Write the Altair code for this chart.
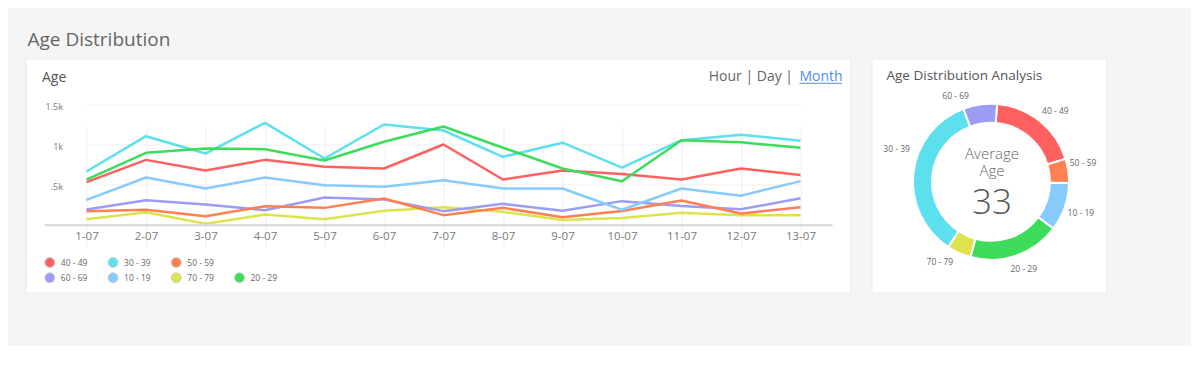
import math
import altair as alt
import pandas as pd

# ---------------- data ----------------
dates = ["1-07", "2-07", "3-07", "4-07", "5-07", "6-07", "7-07",
         "8-07", "9-07", "10-07", "11-07", "12-07", "13-07"]

series_names = ["40 - 49", "30 - 39", "50 - 59", "60 - 69", "10 - 19", "70 - 79", "20 - 29"]
series_colors = ["#FF6161", "#5CE0EE", "#FF8152", "#9C9CF5", "#86CBFB", "#DCE34D", "#3DDC5A"]

age_40_49 = [530, 808, 675, 808, 721, 700, 1000, 562, 675, 630, 562, 700, 620]
age_30_39 = [662, 1104, 887, 1271, 825, 1250, 1175, 846, 1023, 710, 1054, 1123, 1046]
age_50_59 = [167, 183, 104, 229, 208, 325, 117, 208, 92, 170, 300, 137, 215]
age_60_69 = [187, 304, 250, 179, 337, 312, 167, 258, 171, 292, 230, 190, 327]
age_10_19 = [308, 587, 450, 587, 491, 471, 554, 450, 450, 185, 450, 360, 542]
age_70_79 = [65, 154, 10, 125, 67, 171, 217, 158, 56, 80, 146, 117, 117]
age_20_29 = [560, 896, 950, 941, 800, 1035, 1225, 960, 700, 540, 1054, 1027, 958]

y_tick_values = [500, 1000, 1500]
y_tick_labels = [".5k", "1k", "1.5k"]

donut_groups = ["40 - 49", "50 - 59", "10 - 19", "20 - 29", "70 - 79", "30 - 39", "60 - 69"]
donut_share = [19, 5, 10, 19, 5, 35, 7]
average_age = "33"

# ---------------- tables ----------------
series_values = {
    "40 - 49": age_40_49, "30 - 39": age_30_39, "50 - 59": age_50_59,
    "60 - 69": age_60_69, "10 - 19": age_10_19, "70 - 79": age_70_79,
    "20 - 29": age_20_29,
}
draw_order = ["70 - 79", "60 - 69", "50 - 59", "10 - 19", "40 - 49", "30 - 39", "20 - 29"]
rows = []
for s in draw_order:
    for i, (d, v) in enumerate(zip(dates, series_values[s])):
        rows.append({"series": s, "date": d, "i": i, "value": v})
line_df = pd.DataFrame(rows)

legend_df = pd.DataFrame({
    "series": series_names,
    "col": [i if i < 3 else i - 3 for i in range(len(series_names))],
    "row": [0 if i < 3 else 1 for i in range(len(series_names))],
})

donut_df = pd.DataFrame({"series": donut_groups, "share": donut_share,
                         "k": list(range(len(donut_groups)))})

one = pd.DataFrame({"a": [0]})

FONT = "Open Sans"
color_scale = alt.Scale(domain=series_names, range=series_colors)

# ---------------- left card ----------------
W1, H1 = 825, 234
X0, Y0 = 166, 46  # y-range (value 0 -> 166, 1500 -> 46)

label_expr = "[" + ",".join(f"'{t}'" for t in y_tick_labels) + "][indexof([" + \
    ",".join(str(v) for v in y_tick_values) + "], datum.value)]"

lines = alt.Chart(line_df).mark_line(strokeWidth=2.5, strokeJoin="round").encode(
    x=alt.X("date:O", sort=dates,
            scale=alt.Scale(type="point", range=[61, 775], padding=0),
            axis=alt.Axis(title=None, orient="bottom", offset=-(H1 - X0), domain=False,
                          ticks=False, grid=True, gridColor="#efefef", labelAngle=0,
                          labelFont=FONT, labelFontSize=11.5, labelColor="#7a7a7a",
                          labelPadding=6)),
    y=alt.Y("value:Q",
            scale=alt.Scale(domain=[0, 1500], range=[X0, Y0], nice=False, zero=False),
            axis=alt.Axis(title=None, values=y_tick_values, labelExpr=label_expr,
                          offset=-37, domain=False, ticks=False, grid=True,
                          gridColor="#efefef", labelPadding=0, labelFont=FONT,
                          labelFontSize=9, labelColor="#7a7a7a", labelOffset=2,
                          labelAlign="right")),
    color=alt.Color("series:N", scale=color_scale, legend=None),
    order=alt.Order("i:Q"),
)

axis_line = alt.Chart(one).mark_rule(color="#d6d6d6", strokeWidth=2).encode(
    x=alt.value(19), x2=alt.value(807), y=alt.value(X0 + 0.7))

leg_x = alt.X("col:Q", scale=alt.Scale(domain=[0, 3], range=[24.3, 214]), axis=None)
leg_y = alt.Y("row:Q", scale=alt.Scale(domain=[0, 1], range=[204, 219.3]), axis=None)

leg_pts = alt.Chart(legend_df).mark_circle(size=100, opacity=1, stroke="#d0d0d0",
                                           strokeWidth=1).encode(
    x=leg_x, y=leg_y, color=alt.Color("series:N", scale=color_scale, legend=None))

leg_txt = alt.Chart(legend_df).mark_text(align="left", baseline="middle", dx=11,
                                         font=FONT, fontSize=8.5, color="#666").encode(
    x=leg_x, y=leg_y, text="series:N")

t_age = alt.Chart(one).mark_text(align="left", baseline="alphabetic", font=FONT,
                                 fontSize=14, color="#555").encode(
    x=alt.value(16.5), y=alt.value(23.3), text=alt.value("Age"))

t_hd = alt.Chart(one).mark_text(align="right", baseline="alphabetic", font=FONT,
                                fontSize=14, color="#666").encode(
    x=alt.value(767.5), y=alt.value(22.5), text=alt.value("Hour | Day |"))

t_month = alt.Chart(one).mark_text(align="left", baseline="alphabetic", font=FONT,
                                   fontSize=14, color="#4A90E2").encode(
    x=alt.value(774), y=alt.value(22.5), text=alt.value("Month"))

u_month = alt.Chart(one).mark_rule(color="#4A90E2", strokeWidth=1).encode(
    x=alt.value(774), x2=alt.value(816.5), y=alt.value(24.8))

left = alt.layer(lines, axis_line, leg_pts, leg_txt, t_age, t_hd, t_month, u_month).resolve_scale(
    x="independent", y="independent").properties(width=W1, height=H1)

# ---------------- right card ----------------
W2, H2 = 235, 234
CX, CY = 119.5, 123.3
start = 4.5 * math.pi / 180
total = sum(donut_share)
theta_scale = alt.Scale(domain=[0, total], range=[start, start + 2 * math.pi])

arcs = alt.Chart(donut_df).mark_arc(innerRadius=59, outerRadius=78, stroke="white",
                                    strokeWidth=2).encode(
    theta=alt.Theta("share:Q", stack=True, scale=theta_scale),
    color=alt.Color("series:N", scale=color_scale, legend=None),
    order=alt.Order("k:Q"), x=alt.value(CX), y=alt.value(CY))

# label nudges (pixels) to follow the reference's hand-placed outside labels
label_nudge = {"40 - 49": (5, 3), "50 - 59": (-2, -5), "10 - 19": (0, 0),
               "20 - 29": (2, -3), "70 - 79": (-12, -6),
               "30 - 39": (0, -22), "60 - 69": (-22, 8)}

label_layers = []
for s in donut_groups:
    dx, dy = label_nudge.get(s, (0, 0))
    label_layers.append(
        alt.Chart(donut_df).transform_window(
            cum="sum(share)", sort=[alt.SortField("k")]
        ).transform_calculate(
            mid="datum.cum - datum.share / 2"
        ).transform_filter(
            alt.datum.series == s
        ).mark_text(radius=95, font=FONT, fontSize=8.5, color="#666",
                    baseline="middle", dx=dx, dy=dy).encode(
            theta=alt.Theta("mid:Q", stack=None, scale=theta_scale),
            text="series:N", x=alt.value(CX), y=alt.value(CY))
    )

t_title2 = alt.Chart(one).mark_text(align="left", baseline="alphabetic", font=FONT,
                                    fontSize=13.5, color="#555").encode(
    x=alt.value(15), y=alt.value(21.7), text=alt.value("Age Distribution Analysis"))

t_avg = alt.Chart(one).mark_text(align="center", baseline="alphabetic", font=FONT,
                                 fontSize=15, fontWeight=300, color="#666",
                                 lineHeight=17.3).encode(
    x=alt.value(CX + 1), y=alt.value(100), text=alt.value(["Average", "Age"]))

t_33 = alt.Chart(one).mark_text(align="center", baseline="alphabetic", font=FONT,
                                fontSize=35, fontWeight=300, color="#555").encode(
    x=alt.value(CX + 1), y=alt.value(155), text=alt.value(average_age))

right = alt.layer(arcs, *label_layers, t_title2, t_avg, t_33).properties(width=W2, height=H2)

chart = alt.hconcat(left, right, spacing=19).properties(
    title=alt.TitleParams("Age Distribution", anchor="start", frame="group", fontSize=19,
                          font=FONT, fontWeight="normal", color="#666", offset=8, dx=2),
    padding={"left": 16.5, "top": 22.5, "right": 83, "bottom": 52},
    background="#f5f5f5",
).configure_view(fill="white", stroke="#e8e8e8", strokeWidth=1)

chart.save("out.html", embed_options={"renderer": "svg", "actions": False})
